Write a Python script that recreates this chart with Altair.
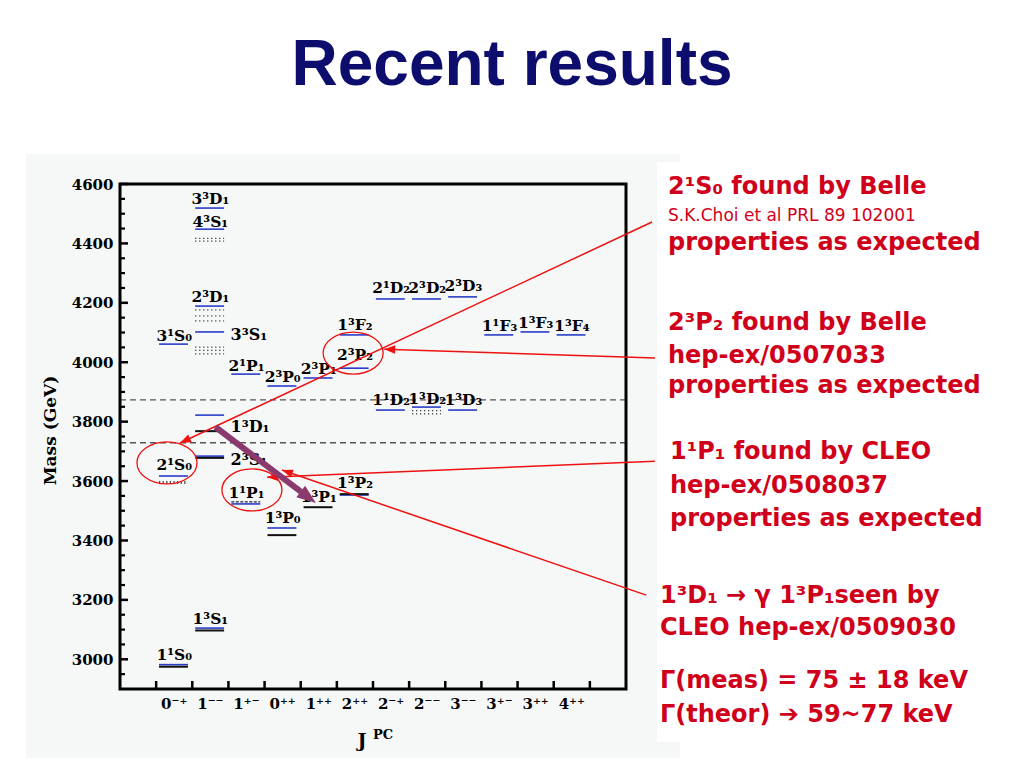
import math
import altair as alt
import pandas as pd

# ---------------- data ----------------
JPC = ["0⁻⁺", "1⁻⁻", "1⁺⁻", "0⁺⁺", "1⁺⁺", "2⁺⁺", "2⁻⁺", "2⁻⁻", "3⁻⁻", "3⁺⁻", "3⁺⁺", "4⁺⁺"]

# predicted levels (blue)
theory_col = [0, 0, 0, 1, 1, 1, 1, 1, 1, 1, 2, 2, 3, 3, 4, 5, 5, 5, 6, 6, 7, 7, 8, 8, 9, 10, 11]
theory_mass = [2982, 3617, 4061, 3105, 3684, 3822, 4102, 4189, 4448, 4519, 3523, 3960,
               3442, 3920, 3947, 3553, 3980, 4092, 3839, 4213, 3849, 4213, 3839, 4220,
               4092, 4102, 4092]
# observed levels (black)
obs_col = [0, 1, 1, 1, 3, 4, 5]
obs_mass = [2975, 3097, 3678, 3768, 3418, 3512, 3556]
# observed unresolved states (dotted)
dotted_col = [1, 1, 1, 1, 1, 1, 1, 1, 7, 7]
dotted_mass = [4417, 4408, 4176, 4156, 4139, 4051, 4040, 4028, 3837, 3826]
# hatched / dashed new observations
hatched_col = [0]
hatched_mass = [3595]
dashed_col = [2]
dashed_mass = [3530]
# open-charm thresholds
threshold_mass = [3729, 3873]

label_text = ["1¹S₀", "2¹S₀", "3¹S₀", "1³S₁", "2³D₁", "4³S₁", "3³D₁", "2³S₁", "1³D₁", "3³S₁",
              "1¹P₁", "2¹P₁", "1³P₀", "2³P₀", "1³P₁", "2³P₁", "1³P₂", "2³P₂", "1³F₂",
              "2¹D₂", "2³D₂", "2³D₃", "1¹D₂", "1³D₂", "1³D₃", "1¹F₃", "1³F₃", "1³F₄"]
label_col = [0, 0, 0, 1, 1, 1, 1, 1, 1, 1, 2, 2, 3, 3, 4, 4, 5, 5, 5, 6, 7, 8, 6, 7, 8, 9, 10, 11]
label_mass = [2997, 3637, 4071, 3119, 4203, 4455, 4533, 3671, 3782, 4092,
              3543, 3970, 3459, 3933, 3529, 3960, 3576, 4007, 4108,
              4233, 4233, 4240, 3856, 3860, 3856, 4105, 4115, 4105]
label_side = ["above"] * 7 + ["right"] * 3 + ["above"] * 18

y_major = [3000, 3200, 3400, 3600, 3800, 4000, 4200, 4400, 4600]
y_minor = [2950, 3050, 3100, 3150, 3250, 3300, 3350, 3450, 3500, 3550, 3650, 3700, 3750,
           3850, 3900, 3950, 4050, 4100, 4150, 4250, 4300, 4350, 4450, 4500, 4550]
x_ticks = [0, 1, 2, 3, 4, 5, 6, 7, 8, 9, 10, 11, 12]

# red annotation arrows: start (column units, MeV) -> tip
arrow_x1 = [13.72, 13.80, 13.80, 13.56]
arrow_m1 = [4472, 4014, 3667, 3216]
arrow_x2 = [0.66, 6.31, 3.07, 3.48]
arrow_m2 = [3728, 4044, 3613, 3637]
# red circles round the new states
circle_x = [0.30, 2.65, 5.45]
circle_m = [3661, 3570, 4031]
# 1³D₁ -> γ 1³P₁ transition
trans_x = [1.64, 4.42]
trans_m = [3782, 3526]

block1 = ["2¹S₀ found by Belle", "S.K.Choi et al PRL 89 102001", "properties as expected"]
block2 = ["2³P₂ found by Belle", "hep-ex/0507033", "properties as expected"]
block3 = ["1¹P₁ found by CLEO", "hep-ex/0508037", "properties as expected"]
block4 = ["1³D₁ → γ 1³P₁seen by", "CLEO hep-ex/0509030", "Γ(meas) = 75 ± 18 keV", "Γ(theor) ➔ 59~77 keV"]

# ---------------- layout / style ----------------
W, H = 506, 505
RED = "#d0001a"
LRED = "#ee1111"
BLUE = "#2b3cc8"
NAVY = "#0d0d6e"
PURPLE = "#8b3a6e"
SERIF = "DejaVu Serif"
SANS = "DejaVu Sans"
PXX = W / 14.0
PXY = H / 1700.0

XS = alt.Scale(domain=[-1, 13], nice=False, zero=False)
YS = alt.Scale(domain=[2900, 4600], nice=False, zero=False)
YAX = alt.Axis(values=y_major, format="d", title="Mass (GeV)", grid=False, domain=False,
               ticks=False, tickSize=0, labelPadding=7, labelFont=SERIF,
               labelFontWeight="bold", labelFontSize=15, labelColor="black",
               titleFont=SERIF, titleFontWeight="bold", titleFontSize=17, titleColor="black",
               titleAngle=270, titleX=-70, titleY=246, titleAlign="center",
               titleBaseline="middle", zindex=1)


def X(f):
    return alt.X(f, type="quantitative", scale=XS, axis=None)


def Y(f):
    return alt.Y(f, type="quantitative", scale=YS, axis=YAX)


ONE = pd.DataFrame({"k": [0]})


def seg(cols, masses):
    return pd.DataFrame({"x": [c + 0.08 for c in cols], "x2": [c + 0.88 for c in cols], "m": masses})


def levels(cols, masses, **style):
    return alt.Chart(seg(cols, masses)).mark_rule(**style).encode(
        x=X("x"), x2=alt.X2("x2"), y=Y("m"))


def txt(s, x, y, size, font=SANS, weight="bold", color=RED, align="left"):
    return alt.Chart(ONE).mark_text(text=s, font=font, fontWeight=weight, fontSize=size,
                                    color=color, align=align, baseline="alphabetic").encode(
        x=alt.value(x), y=alt.value(y))


layers = []

# slide panel and white text box
layers.append(alt.Chart(ONE).mark_rect(color="#f5f8f7").encode(
    x=alt.value(-94), x2=alt.value(560), y=alt.value(-30), y2=alt.value(600)))
layers.append(alt.Chart(ONE).mark_rect(color="white").encode(
    x=alt.value(537), x2=alt.value(900), y=alt.value(-22), y2=alt.value(558)))

# thresholds
layers.append(alt.Chart(pd.DataFrame({"m": threshold_mass})).mark_rule(
    color="#555555", strokeWidth=1.3, strokeDash=[6, 4]).encode(y=Y("m")))

# levels
layers.append(levels(theory_col, theory_mass, color=BLUE, strokeWidth=1.6))
layers.append(levels(obs_col, obs_mass, color="#111111", strokeWidth=2))
layers.append(levels(dotted_col, dotted_mass, color="#333333", strokeWidth=1.3, strokeDash=[1.2, 2.8]))
layers.append(levels(hatched_col, hatched_mass, color="#444444", strokeWidth=3, strokeDash=[1.2, 2.4]))
layers.append(levels(dashed_col, dashed_mass, color="#222244", strokeWidth=1.4, strokeDash=[3, 1.5]))

# level labels
lab = pd.DataFrame({"t": label_text, "col": label_col, "m": label_mass, "side": label_side})
lab["x"] = [c + 0.5 if s == "above" else c + 1.06 for c, s in zip(lab["col"], lab["side"])]
layers.append(alt.Chart(lab[lab["side"] == "above"]).mark_text(
    font=SERIF, fontWeight="bold", fontSize=15.5, color="black", align="center",
    baseline="alphabetic").encode(x=X("x"), y=Y("m"), text="t:N"))
layers.append(alt.Chart(lab[lab["side"] == "right"]).mark_text(
    font=SERIF, fontWeight="bold", fontSize=16, color="black", align="left",
    baseline="middle").encode(x=X("x"), y=Y("m"), text="t:N"))

# inward ticks
layers.append(alt.Chart(pd.DataFrame({"m": y_major})).mark_rule(color="black", strokeWidth=2.5).encode(
    y=Y("m"), x=alt.value(0), x2=alt.value(8)))
layers.append(alt.Chart(pd.DataFrame({"m": y_minor})).mark_rule(color="black", strokeWidth=2.2).encode(
    y=Y("m"), x=alt.value(0), x2=alt.value(5)))
layers.append(alt.Chart(pd.DataFrame({"x": x_ticks})).mark_rule(color="black", strokeWidth=2.5).encode(
    x=X("x"), y=alt.value(H), y2=alt.value(H - 8)))

# x category labels
xl = pd.DataFrame({"t": JPC, "x": [i + 0.5 for i in range(len(JPC))]})
layers.append(alt.Chart(xl).mark_text(font=SERIF, fontWeight="bold", fontSize=15, color="black",
                                      align="center", baseline="alphabetic").encode(
    x=X("x"), y=alt.value(525), text="t:N"))
layers.append(txt("J", 242, 563, 19, font=SERIF, color="black", align="center"))
layers.append(txt("PC", 253, 555, 13, font=SERIF, color="black"))

# frame
layers.append(alt.Chart(ONE).mark_rect(filled=False, stroke="black", strokeWidth=3).encode(
    x=alt.value(0), x2=alt.value(W), y=alt.value(0), y2=alt.value(H)))

# red circles
ELL = ("M-1,0 C-1,-0.3866 -0.5523,-0.7 0,-0.7 C0.5523,-0.7 1,-0.3866 1,0 "
       "C1,0.3866 0.5523,0.7 0,0.7 C-0.5523,0.7 -1,0.3866 -1,0 Z")
layers.append(alt.Chart(pd.DataFrame({"x": circle_x, "m": circle_m})).mark_point(
    shape=ELL, filled=False, stroke=LRED, strokeWidth=1.3, size=3600, opacity=1).encode(
    x=X("x"), y=Y("m")))

HEAD = "M0,0 L-0.38,1 L0.38,1 Z"


def ang(x1, m1, x2, m2):
    return (math.degrees(math.atan2((x2 - x1) * PXX, (m2 - m1) * PXY)) + 360) % 360


# red arrows
ar = pd.DataFrame({"x": arrow_x1, "m": arrow_m1, "x2": arrow_x2, "m2": arrow_m2})
ar["angle"] = [ang(a, b, c, d) for a, b, c, d in zip(arrow_x1, arrow_m1, arrow_x2, arrow_m2)]
layers.append(alt.Chart(ar).mark_rule(color=LRED, strokeWidth=1.5).encode(
    x=X("x"), y=Y("m"), x2=alt.X2("x2"), y2=alt.Y2("m2")))
layers.append(alt.Chart(ar).mark_point(shape=HEAD, filled=True, fill=LRED, strokeWidth=0,
                                       size=484, opacity=1).encode(
    x=X("x2"), y=Y("m2"), angle=alt.Angle("angle:Q", scale=None)))

# purple transition arrow
hx, hm = trans_x[1], trans_m[1]
dxp = (trans_x[1] - trans_x[0]) * PXX
dyp = (trans_m[1] - trans_m[0]) * PXY
L = math.hypot(dxp, dyp)
back = 0.6 * 19 / L
tr = pd.DataFrame({"x": [trans_x[0]], "m": [trans_m[0]],
                   "x2": [hx - back * (trans_x[1] - trans_x[0])],
                   "m2": [hm - back * (trans_m[1] - trans_m[0])]})
layers.append(alt.Chart(tr).mark_rule(color=PURPLE, strokeWidth=6).encode(
    x=X("x"), y=Y("m"), x2=alt.X2("x2"), y2=alt.Y2("m2")))
th = pd.DataFrame({"x": [hx], "m": [hm], "angle": [ang(trans_x[0], trans_m[0], hx, hm)]})
layers.append(alt.Chart(th).mark_point(shape=HEAD, filled=True, fill=PURPLE, strokeWidth=0,
                                       size=1444, opacity=1).encode(
    x=X("x"), y=Y("m"), angle=alt.Angle("angle:Q", scale=None)))

# slide title
layers.append(txt("Recent results", 392, -99, 64, font="Liberation Sans", color=NAVY, align="center"))

# red annotation text
layers.append(txt(block1[0], 548, 10, 24))
layers.append(txt(block1[1], 548, 37, 17, weight="normal"))
layers.append(txt(block1[2], 548, 66, 24))
for s, y in zip(block2, [146, 179, 209]):
    layers.append(txt(s, 548, y, 24))
for s, y in zip(block3, [275, 309, 342]):
    layers.append(txt(s, 550, y, 24))
for s, y in zip(block4, [419, 451, 504, 538]):
    layers.append(txt(s, 540, y, 24))

chart = alt.layer(*layers).properties(
    width=W, height=H,
    autosize=alt.AutoSizeParams(type="none"),
    padding={"left": 112, "top": 176, "right": 390, "bottom": 69},
    background="white",
).configure_view(strokeWidth=0)

chart.save("out.html", embed_options={"renderer": "svg", "actions": False})
